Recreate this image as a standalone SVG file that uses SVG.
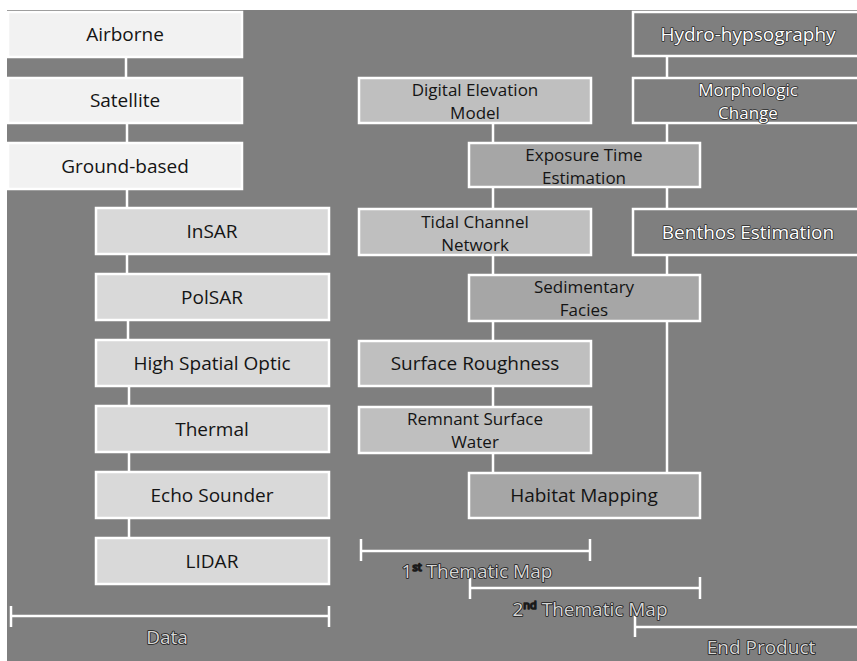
<svg xmlns="http://www.w3.org/2000/svg" width="857" height="661" viewBox="0 0 857 661">
<style>
.bx{stroke:#ffffff;stroke-width:2.5}
.c1{fill:#f2f2f2}
.c2{fill:#d9d9d9}
.c3{fill:#bfbfbf}
.c4{fill:#a6a6a6}
.c5{fill:#7f7f7f}
.t{font-family:"Open Sans","Noto Sans","DejaVu Sans",sans-serif;font-size:19px;font-weight:500;text-anchor:middle;fill:#141414}
.t2{font-size:17px}
.tw{fill:#ffffff;stroke:#2a2a2a;stroke-width:1.6;paint-order:stroke;stroke-linejoin:round}
.lb{font-family:"Open Sans","Noto Sans","DejaVu Sans",sans-serif;font-size:19px;text-anchor:middle;fill:#d6d6d6;stroke:#1a1a1a;stroke-width:1.6;paint-order:stroke;stroke-linejoin:round}
.sup{font-size:11px;fill:#1a1a1a}
.ln{stroke:#ffffff;stroke-width:2.5;fill:none}
</style>
<rect x="0" y="0" width="857" height="661" fill="#ffffff"/>
<rect x="7" y="10" width="850" height="651" fill="#7f7f7f"/>
<g id="connectors">
<path class="ln" d="M126 57V78M127 123V143M127 189V208M127 254V274M128 320V340M129 386V406M129 452V472M129 518V538"/>
<path class="ln" d="M493 123V473"/>
<path class="ln" d="M667 56V473"/>
<path class="ln" d="M11 616H329M11 606V627M329 606V627"/>
<path class="ln" d="M361 551H590M361 539V561M590 539V561"/>
<path class="ln" d="M470 588H700M470 578V599M700 577V599"/>
<path class="ln" d="M635 627H857M635 616V637"/>
</g>
<g id="airborne"><rect class="bx c1" x="8" y="12" width="234" height="45"/><text class="t" x="125" y="41">Airborne</text></g>
<g id="satellite"><rect class="bx c1" x="8" y="78" width="234" height="45"/><text class="t" x="125" y="107">Satellite</text></g>
<g id="ground-based"><rect class="bx c1" x="8" y="143" width="234" height="46"/><text class="t" x="125" y="173">Ground-based</text></g>
<g id="insar"><rect class="bx c2" x="96" y="208" width="233" height="46"/><text class="t" x="212" y="238">InSAR</text></g>
<g id="polsar"><rect class="bx c2" x="96" y="274" width="233" height="46"/><text class="t" x="212" y="304">PolSAR</text></g>
<g id="high-spatial-optic"><rect class="bx c2" x="96" y="340" width="233" height="46"/><text class="t" x="212" y="370">High Spatial Optic</text></g>
<g id="thermal"><rect class="bx c2" x="96" y="406" width="233" height="46"/><text class="t" x="212" y="436">Thermal</text></g>
<g id="echo-sounder"><rect class="bx c2" x="96" y="472" width="233" height="46"/><text class="t" x="212" y="502">Echo Sounder</text></g>
<g id="lidar"><rect class="bx c2" x="96" y="538" width="233" height="46"/><text class="t" x="212" y="568">LIDAR</text></g>
<g id="dem"><rect class="bx c3" x="359" y="78" width="232" height="45"/><text class="t t2" x="475" y="96">Digital Elevation<tspan x="475" dy="23">Model</tspan></text></g>
<g id="exposure-time"><rect class="bx c4" x="469" y="143" width="231" height="44"/><text class="t t2" x="584" y="161">Exposure Time<tspan x="584" dy="23">Estimation</tspan></text></g>
<g id="tidal-channel"><rect class="bx c3" x="359" y="209" width="232" height="46"/><text class="t t2" x="475" y="228">Tidal Channel<tspan x="475" dy="23">Network</tspan></text></g>
<g id="sedimentary-facies"><rect class="bx c4" x="469" y="275" width="231" height="46"/><text class="t t2" x="584" y="293">Sedimentary<tspan x="584" dy="23">Facies</tspan></text></g>
<g id="surface-roughness"><rect class="bx c3" x="359" y="341" width="232" height="45"/><text class="t" x="475" y="370">Surface Roughness</text></g>
<g id="remnant-surface-water"><rect class="bx c3" x="359" y="407" width="232" height="46"/><text class="t t2" x="475" y="425">Remnant Surface<tspan x="475" dy="23">Water</tspan></text></g>
<g id="habitat-mapping"><rect class="bx c4" x="469" y="473" width="231" height="45"/><text class="t" x="584" y="502">Habitat Mapping</text></g>
<g id="hydro-hypsography"><rect class="bx c5" x="633" y="12" width="232" height="44"/><text class="t tw" x="748" y="41">Hydro-hypsography</text></g>
<g id="morphologic-change"><rect class="bx c5" x="633" y="78" width="232" height="45"/><text class="t t2 tw" x="748" y="96">Morphologic<tspan x="748" dy="23">Change</tspan></text></g>
<g id="benthos-estimation"><rect class="bx c5" x="633" y="209" width="232" height="46"/><text class="t tw" x="748" y="239">Benthos Estimation</text></g>
<g id="labels">
<text class="lb" x="167" y="644">Data</text>
<text class="lb" x="477" y="578">1<tspan class="sup" dy="-7">st</tspan><tspan dy="7"> Thematic Map</tspan></text>
<text class="lb" x="590" y="616">2<tspan class="sup" dy="-7">nd</tspan><tspan dy="7"> Thematic Map</tspan></text>
<text class="lb" x="761" y="654">End Product</text>
</g>
</svg>
